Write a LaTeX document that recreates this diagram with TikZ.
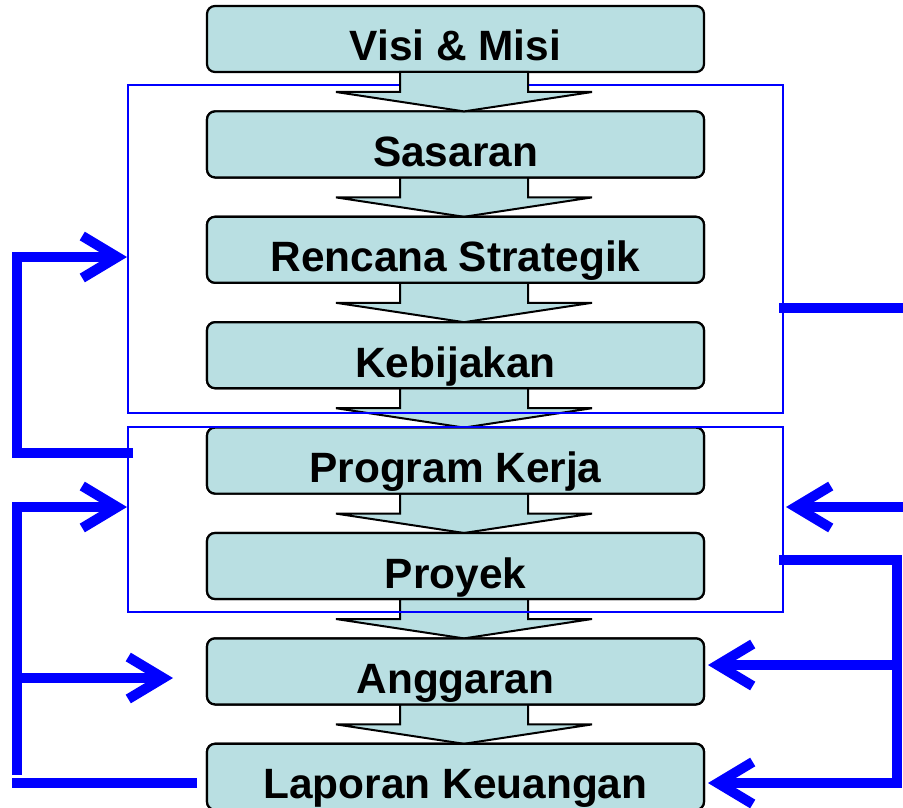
\documentclass[tikz,border=0pt]{standalone}
\usepackage{fontspec}
\setmainfont{Liberation Sans}
\usetikzlibrary{arrows.meta,calc}
\definecolor{boxfill}{RGB}{185,223,226}
\definecolor{pblue}{RGB}{0,0,255}
\tikzset{
  box/.style={draw=black, line width=2.2pt, fill=boxfill, rounded corners=8pt,
    minimum width=497pt, minimum height=66pt, inner sep=0pt, outer sep=0pt,
    text height=44pt, text depth=0pt,
    font=\fontsize{42.4}{50}\selectfont\bfseries},
  blk/.style={draw=black, line width=2pt, fill=boxfill, line join=miter},
  frame/.style={draw=pblue, line width=2pt},
  fb/.style={draw=pblue, line width=10pt, line join=miter, line cap=butt},
  fba/.style={fb, -{Straight Barb[length=35pt,width=42pt]}},
}
\newcommand\blkarrow[2]{%
  \draw[blk] ($(#1.south)+(-55.5,0)$) -- ($(#1.south)+(-55.5,20)$) -- ($(#1.south)+(-119.5,20)$)
    -- ($(#2.north)+(8.5,0)$) -- ($(#1.south)+(136.5,20)$) -- ($(#1.south)+(72.5,20)$)
    -- ($(#1.south)+(72.5,0)$) -- cycle;}
\begin{document}
\begin{tikzpicture}[x=1pt,y=-1pt]
\useasboundingbox (0,0) rectangle (903,808);
% boxes (positions)
\path
  (455.5,39)    node[box] (b1) {Visi \& Misi}
  (455.5,144.4) node[box] (b2) {Sasaran}
  (455.5,249.8) node[box] (b3) {Rencana Strategik}
  (455.5,355.2) node[box] (b4) {Kebijakan}
  (455.5,460.6) node[box] (b5) {Program Kerja}
  (455.5,566)   node[box] (b6) {Proyek}
  (455.5,671.4) node[box] (b7) {Anggaran}
  (455.5,776.8) node[box] (b8) {Laporan Keuangan};
% block arrows between boxes
\blkarrow{b2}{b3}
\blkarrow{b3}{b4}
\blkarrow{b4}{b5}
\blkarrow{b5}{b6}
\blkarrow{b6}{b7}
\blkarrow{b7}{b8}
% redraw boxes above arrows
\path
  (455.5,144.4) node[box] {Sasaran}
  (455.5,249.8) node[box] {Rencana Strategik}
  (455.5,355.2) node[box] {Kebijakan}
  (455.5,460.6) node[box] {Program Kerja}
  (455.5,566)   node[box] {Proyek}
  (455.5,671.4) node[box] {Anggaran}
  (455.5,776.8) node[box] {Laporan Keuangan};
% frames
\draw[frame] (128,85) rectangle (783,413);
\draw[frame] (128,427) rectangle (783,612);
\blkarrow{b1}{b2}
% feedback lines
\coordinate (l1s) at (133,453);
\coordinate (l1c) at (17,453);
\coordinate (l1d) at (17,257);
\coordinate (l1e) at (127,257);
\draw[fba] (l1s) -- (l1c) -- (l1d) -- (l1e);
\coordinate (l2s) at (17,775);
\coordinate (l2c) at (17,507);
\coordinate (l2e) at (127,507);
\draw[fba] (l2s) -- (l2c) -- (l2e);
\coordinate (l3s) at (17,678);
\coordinate (l3e) at (173,678);
\draw[fba] (l3s) -- (l3e);
\coordinate (l4s) at (197,783);
\coordinate (l4e) at (12,783);
\draw[fb] (l4s) -- (l4e);
\coordinate (r1s) at (779,308);
\coordinate (r1e) at (910,308);
\draw[fb] (r1s) -- (r1e);
\coordinate (r2s) at (910,507);
\coordinate (r2e) at (786,507);
\draw[fba] (r2s) -- (r2e);
\coordinate (r3s) at (779,560);
\coordinate (r3c) at (897,560);
\coordinate (r3d) at (897,783);
\coordinate (r3e) at (708,783);
\draw[fba] (r3s) -- (r3c) -- (r3d) -- (r3e);
\coordinate (r4s) at (897,665);
\coordinate (r4e) at (708,665);
\draw[fba] (r4s) -- (r4e);
\end{tikzpicture}
\end{document}
